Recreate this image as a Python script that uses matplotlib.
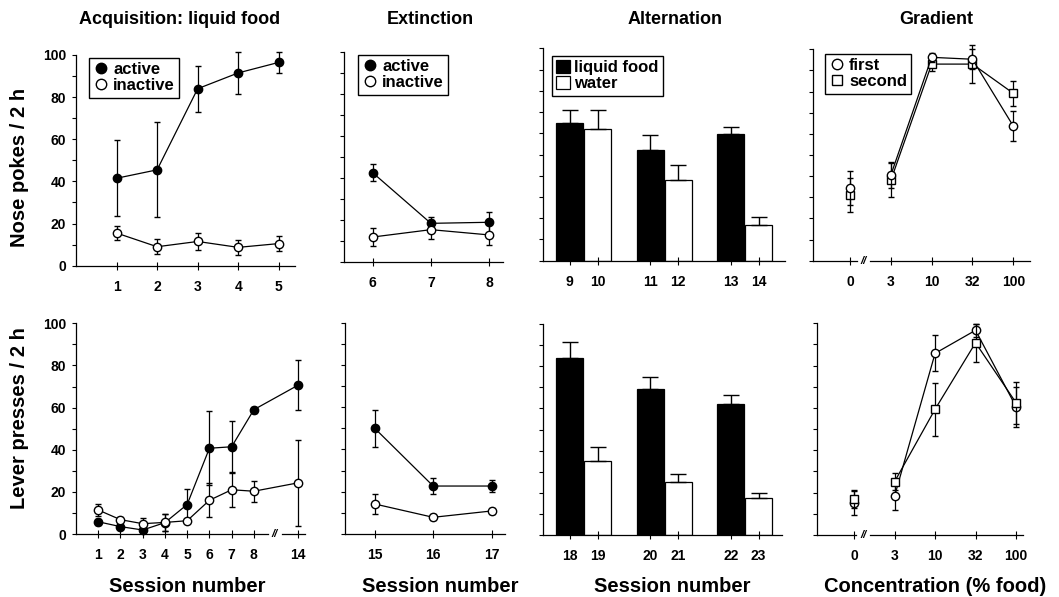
import matplotlib
matplotlib.use('Agg')
import matplotlib.pyplot as plt
from matplotlib.lines import Line2D
from matplotlib.patches import Patch
import numpy as np

plt.rcParams['font.family'] = ['Liberation Sans', 'DejaVu Sans']
plt.rcParams['font.weight'] = 'bold'

# ---------------- data ----------------
# Nose pokes (top row)
acq_np_sessions = ['1', '2', '3', '4', '5']
acq_np_active = [41.5, 45.5, 84, 91.5, 96.5]
acq_np_active_err = [18, 22.5, 11, 10, 5]
acq_np_inactive = [15.5, 9, 11.5, 8.7, 10.5]
acq_np_inactive_err = [3.5, 3.5, 4, 3.5, 3.5]

ext_np_sessions = ['6', '7', '8']
ext_np_active = [42.5, 18.5, 19]
ext_np_active_err = [4, 3, 5]
ext_np_inactive = [12, 15.5, 13]
ext_np_inactive_err = [4.3, 4.5, 5]

alt_np_food_sessions = ['9', '11', '13']
alt_np_water_sessions = ['10', '12', '14']
alt_np_food = [65, 52, 59.5]
alt_np_food_err = [6, 7, 3.6]
alt_np_water = [62, 38, 17]
alt_np_water_err = [9, 7, 3.6]

grad_conc = ['0', '3', '10', '32', '100']
grad_np_first = [34.5, 40.5, 96.2, 95.3, 63.7]
grad_np_first_err = [8, 6, 2, 4.7, 7]
grad_np_second = [31, 38, 93, 93, 79.2]
grad_np_second_err = [8, 8, 3.5, 9, 6]

# Lever presses (bottom row)
acq_lp_sessions = ['1', '2', '3', '4', '5', '6', '7', '8', '14']
acq_lp_active = [5.8, 3.5, 1.9, 5.4, 14, 40.7, 41.4, 59, 70.7]
acq_lp_active_err = [1.5, 1, 1, 4, 7.3, 17.5, 12, 1.5, 11.7]
acq_lp_inactive = [11.4, 6.8, 4.9, 5.5, 6.3, 16, 21, 20.3, 24.3]
acq_lp_inactive_err = [3, 1.5, 2.5, 4, 0.5, 8, 8, 5, 20.5]

ext_lp_sessions = ['15', '16', '17']
ext_lp_active = [50, 22.7, 22.7]
ext_lp_active_err = [8.7, 3.7, 3]
ext_lp_inactive = [14.2, 7.9, 10.9]
ext_lp_inactive_err = [4.7, 1.5, 1.5]

alt_lp_food_sessions = ['18', '20', '22']
alt_lp_water_sessions = ['19', '21', '23']
alt_lp_food = [84, 69, 62]
alt_lp_food_err = [7.3, 5.7, 4.4]
alt_lp_water = [35.2, 25.3, 17.4]
alt_lp_water_err = [6.6, 3.6, 2.4]

grad_lp_first = [15.3, 18.4, 85.8, 96.7, 60.6]
grad_lp_first_err = [6, 6.5, 8.5, 3, 9.5]
grad_lp_second = [16.9, 25.2, 59.4, 90.8, 62.5]
grad_lp_second_err = [4, 4, 12.5, 9, 10]

# ---------------- layout ----------------
W, H = 1059, 597
fig = plt.figure(figsize=(W / 100, H / 100), dpi=100)


def add_ax(x0, x1, ybot, ytop):
    return fig.add_axes([x0 / W, 1 - ybot / H, (x1 - x0) / W, (ybot - ytop) / H])


LW = 0.9
MS = 6
TICKFS = 10


def style(ax, ylabels, break_at=None):
    ax.set_ylim(0, 100)
    ax.spines['top'].set_visible(False)
    ax.spines['right'].set_visible(False)
    for s in ('left', 'bottom'):
        ax.spines[s].set_linewidth(0.9)
    ax.set_yticks(np.arange(0, 101, 10))
    if ylabels:
        ax.set_yticklabels([str(v) if v % 20 == 0 else '' for v in range(0, 101, 10)])
    else:
        ax.set_yticklabels([])
    ax.tick_params(axis='y', direction='out', length=3, width=0.8, pad=4, labelsize=TICKFS)
    ax.tick_params(axis='x', direction='inout', length=6, width=0.8, pad=7, labelsize=TICKFS)
    if break_at is not None:
        ax.spines['bottom'].set_visible(False)
        tr = ax.get_xaxis_transform()
        xl = ax.get_xlim()
        g = 0.016 * (xl[1] - xl[0])
        ax.plot([xl[0], break_at - 2 * g], [0, 0], color='black', lw=0.9, transform=tr, clip_on=False)
        ax.plot([break_at + 2 * g, xl[1]], [0, 0], color='black', lw=0.9, transform=tr, clip_on=False)
        ax.text(break_at, 0, '//', transform=tr, ha='center', va='center', fontsize=8,
                fontweight='bold', fontstyle='italic', clip_on=False)


def lines(ax, x, y, e, filled, marker='o', z=3):
    ax.errorbar(x, y, yerr=e, fmt='-' + marker, color='black', mfc='black' if filled else 'white',
                mec='black', ms=MS, mew=1.0, lw=LW, elinewidth=0.9, capsize=2.2, capthick=0.9,
                zorder=z, clip_on=False)


def leg_markers(ax, labels, markers, fills, x, y, bar=False):
    handles = []
    for lab, m, f in zip(labels, markers, fills):
        if bar:
            handles.append(Patch(facecolor='black' if f else 'white', edgecolor='black', lw=0.9, label=lab))
        else:
            handles.append(Line2D([], [], ls='none', marker=m, color='black', ms=7.5, mew=1.0,
                                  mfc='black' if f else 'white', label=lab))
    lg = ax.legend(handles=handles, loc='upper left', bbox_to_anchor=(x / W, 1 - y / H),
                   bbox_transform=fig.transFigure, frameon=True, fancybox=False, framealpha=1,
                   edgecolor='black', fontsize=12, borderpad=0.25, handletextpad=0.3,
                   labelspacing=0.05, handlelength=0.9 if not bar else 0.8, handleheight=0.8,
                   borderaxespad=0)
    lg.get_frame().set_linewidth(1.0)
    for t in lg.get_texts():
        t.set_fontweight('bold')


def bars(ax, food_lab, water_lab, food, food_e, water, water_e):
    pos = np.arange(len(food))
    off, w = 0.174, 0.335
    ax.bar(pos - off, food, w, color='black', edgecolor='black', lw=0.9,
           yerr=[np.zeros(len(food)), food_e], capsize=6,
           error_kw=dict(elinewidth=1.0, capthick=1.0, ecolor='black'))
    ax.bar(pos + off, water, w, color='white', edgecolor='black', lw=0.9,
           yerr=[np.zeros(len(water)), water_e], capsize=6,
           error_kw=dict(elinewidth=1.0, capthick=1.0, ecolor='black'))
    ticks = np.concatenate([pos - off, pos + off])
    labs = list(food_lab) + list(water_lab)
    ax.set_xticks(ticks)
    ax.set_xticklabels(labs)


# ---- top row ----
ax = add_ax(76, 295, 265.7, 55)
x = np.arange(1, len(acq_np_sessions) + 1)
ax.set_xlim(0, 5.4)
lines(ax, x, acq_np_active, acq_np_active_err, True)
lines(ax, x, acq_np_inactive, acq_np_inactive_err, False, z=4)
ax.set_xticks(x)
ax.set_xticklabels(acq_np_sessions)
style(ax, True)
leg_markers(ax, ['active', 'inactive'], ['o', 'o'], [True, False], 89, 58)

ax = add_ax(344.3, 503, 262.3, 51.7)
x = np.arange(6, 6 + len(ext_np_sessions))
ax.set_xlim(5.51, 8.24)
lines(ax, x, ext_np_active, ext_np_active_err, True)
lines(ax, x, ext_np_inactive, ext_np_inactive_err, False, z=4)
ax.set_xticks(x)
ax.set_xticklabels(ext_np_sessions)
style(ax, False)
leg_markers(ax, ['active', 'inactive'], ['o', 'o'], [True, False], 358, 55)

ax = add_ax(543.3, 785, 260.7, 48.3)
ax.set_xlim(-0.5, 2.5)
bars(ax, alt_np_food_sessions, alt_np_water_sessions, alt_np_food, alt_np_food_err,
     alt_np_water, alt_np_water_err)
style(ax, False)
leg_markers(ax, ['liquid food', 'water'], ['s', 's'], [True, False], 552, 56, bar=True)

ax = add_ax(813.3, 1030, 260.7, 49.3)
ax.set_xlim(-0.9, 4.41)
gx = np.arange(len(grad_conc))
lines(ax, gx[1:], grad_np_second[1:], grad_np_second_err[1:], False, marker='s')
lines(ax, gx[:1], grad_np_second[:1], grad_np_second_err[:1], False, marker='s')
lines(ax, gx[1:], grad_np_first[1:], grad_np_first_err[1:], False, z=4)
lines(ax, gx[:1], grad_np_first[:1], grad_np_first_err[:1], False, z=4)
ax.set_xticks(gx)
ax.set_xticklabels(grad_conc)
style(ax, False, break_at=0.33)
leg_markers(ax, ['first', 'second'], ['o', 's'], [False, False], 825, 54)

# ---- bottom row ----
ax = add_ax(76, 305, 534, 323.3)
xpos = list(range(1, 9)) + [10]
ax.set_xlim(0, 10.3)
lines(ax, xpos, acq_lp_active, acq_lp_active_err, True)
lines(ax, xpos, acq_lp_inactive, acq_lp_inactive_err, False, z=4)
ax.set_xticks(xpos)
ax.set_xticklabels(acq_lp_sessions)
style(ax, True, break_at=8.95)

ax = add_ax(345, 505, 534, 322.7)
x = np.arange(15, 15 + len(ext_lp_sessions))
ax.set_xlim(14.49, 17.23)
lines(ax, x, ext_lp_active, ext_lp_active_err, True)
lines(ax, x, ext_lp_inactive, ext_lp_inactive_err, False, z=4)
ax.set_xticks(x)
ax.set_xticklabels(ext_lp_sessions)
style(ax, False)

ax = add_ax(543.3, 781.7, 535, 324)
ax.set_xlim(-0.5, 2.46)
bars(ax, alt_lp_food_sessions, alt_lp_water_sessions, alt_lp_food, alt_lp_food_err,
     alt_lp_water, alt_lp_water_err)
style(ax, False)

ax = add_ax(817.3, 1023.3, 535, 323.3)
ax.set_xlim(-0.91, 4.18)
lines(ax, gx[1:], grad_lp_first[1:], grad_lp_first_err[1:], False)
lines(ax, gx[:1], grad_lp_first[:1], grad_lp_first_err[:1], False)
lines(ax, gx[1:], grad_lp_second[1:], grad_lp_second_err[1:], False, marker='s', z=4)
lines(ax, gx[:1], grad_lp_second[:1], grad_lp_second_err[:1], False, marker='s', z=4)
ax.set_xticks(gx)
ax.set_xticklabels(grad_conc)
style(ax, False, break_at=0.22)

# ---- texts ----
TFS = 13
for cx, t in [(180, 'Acquisition: liquid food'), (430, 'Extinction'),
              (675, 'Alternation'), (936, 'Gradient')]:
    fig.text(cx / W, 1 - 19 / H, t, ha='center', va='center', fontsize=TFS, fontweight='bold')

LFS = 14.5
fig.text(20 / W, 1 - 167 / H, 'Nose pokes / 2 h', rotation=90, ha='center', va='center',
         fontsize=LFS, fontweight='bold')
fig.text(20 / W, 1 - 418 / H, 'Lever presses / 2 h', rotation=90, ha='center', va='center',
         fontsize=LFS, fontweight='bold')
for cx, t in [(187, 'Session number'), (440, 'Session number'), (672, 'Session number'),
              (935, 'Concentration (% food)')]:
    fig.text(cx / W, 1 - 592 / H, t, ha='center', va='baseline', fontsize=LFS, fontweight='bold')

fig.savefig('out.png', dpi=100)
